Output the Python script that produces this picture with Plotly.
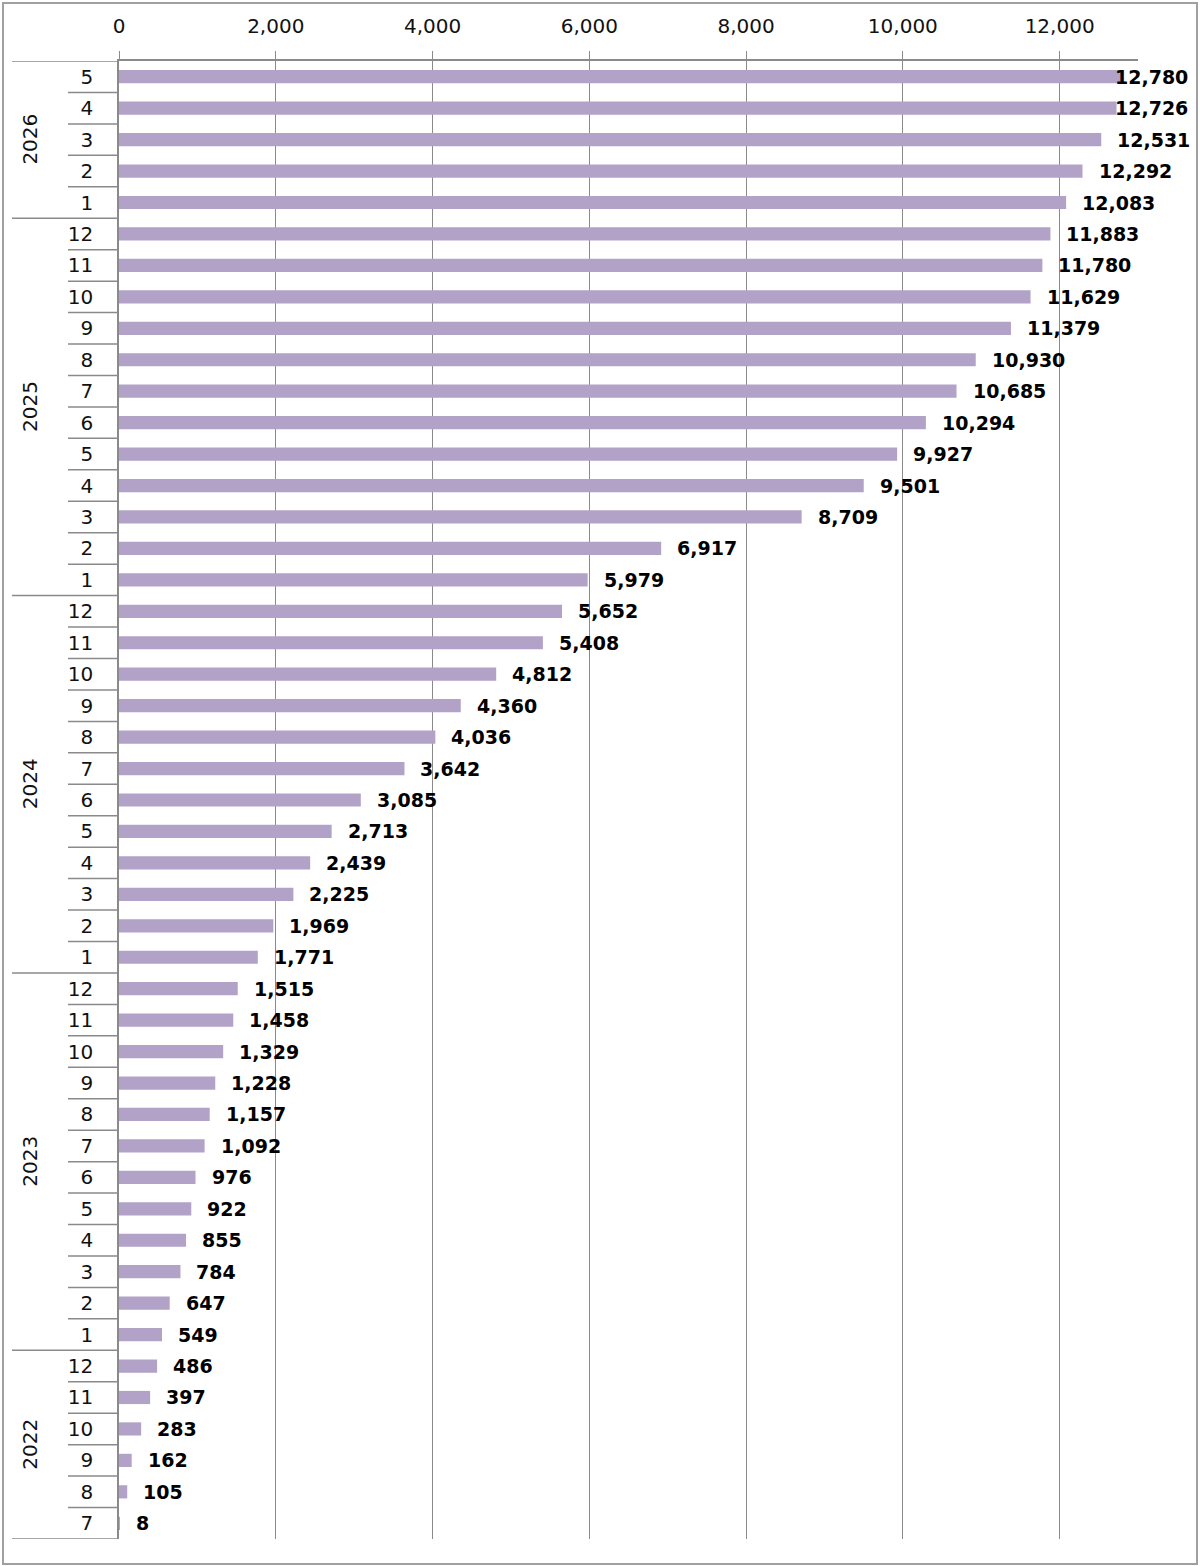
import plotly.graph_objects as go

# Data (chronological order)
years = [2022]*6 + [2023]*12 + [2024]*12 + [2025]*12 + [2026]*5
months = [7, 8, 9, 10, 11, 12] + list(range(1, 13))*3 + [1, 2, 3, 4, 5]
values = [8, 105, 162, 283, 397, 486,
          549, 647, 784, 855, 922, 976, 1092, 1157, 1228, 1329, 1458, 1515,
          1771, 1969, 2225, 2439, 2713, 3085, 3642, 4036, 4360, 4812, 5408, 5652,
          5979, 6917, 8709, 9501, 9927, 10294, 10685, 10930, 11379, 11629, 11780, 11883,
          12083, 12292, 12531, 12726, 12780]
x_ticks = [0, 2000, 4000, 6000, 8000, 10000, 12000]

W, H = 1200, 1566
ML, MR, MT, MB = 119, 62, 61, 27
PW = W - ML - MR
PH = H - MT - MB
XMAX = 13000
FONT = "DejaVu Sans, Verdana, sans-serif"
GRAY = "#8a8a8a"

idx = list(range(len(values)))

fig = go.Figure()
fig.add_trace(go.Bar(
    x=values, y=idx, orientation="h",
    marker=dict(color="#B3A2C7", line=dict(width=0)),
    width=0.42, hoverinfo="x",
))

def px_x(v):
    return ML + v / XMAX * PW

def to_paper_x(p):
    return (p - ML) / PW

def to_paper_y(p):
    return (H - MB - p) / PH

annotations = []
shapes = []
label_right_limit = 1190
for i, v in enumerate(values):
    txt = f"{v:,}"
    est_w = 12.4 * sum(c.isdigit() for c in txt) + 7 * txt.count(",")
    left = px_x(v) + 14
    if left + est_w > label_right_limit:
        annotations.append(dict(x=to_paper_x(label_right_limit), xref="paper", y=i, yref="y",
                                text=f"<b>{txt}</b>", showarrow=False, xanchor="right",
                                yanchor="middle", font=dict(size=19, color="#000", family=FONT)))
    else:
        annotations.append(dict(x=v, xref="x", y=i, yref="y", xshift=14,
                                text=f"<b>{txt}</b>", showarrow=False, xanchor="left",
                                yanchor="middle", font=dict(size=19, color="#000", family=FONT)))

# category dividers and year labels
year_x0 = to_paper_x(12)
month_x0 = to_paper_x(68)
n = len(values)
for b in range(n + 1):
    yb = b - 0.5
    if b == 0 or b == n or years[b] != years[b - 1]:
        x0 = year_x0
    else:
        x0 = month_x0
    shapes.append(dict(type="line", xref="paper", yref="y", x0=x0, x1=0, y0=yb, y1=yb,
                       line=dict(color=GRAY, width=1.5)))

uniq_years = []
for y in years:
    if y not in uniq_years:
        uniq_years.append(y)
for yr in uniq_years:
    ids = [i for i, y in enumerate(years) if y == yr]
    annotations.append(dict(x=to_paper_x(30), xref="paper", y=(ids[0] + ids[-1]) / 2, yref="y",
                            text=str(yr), textangle=-90, showarrow=False,
                            xanchor="center", yanchor="middle",
                            font=dict(size=20, color="#111", family=FONT)))

# outer border
shapes.append(dict(type="rect", xref="paper", yref="paper",
                   x0=to_paper_x(3), x1=to_paper_x(1197),
                   y0=to_paper_y(1564), y1=to_paper_y(3),
                   line=dict(color="#a0a0a0", width=2), fillcolor="rgba(0,0,0,0)", layer="below"))

fig.update_layout(
    width=W, height=H,
    margin=dict(l=ML, r=MR, t=MT, b=MB, autoexpand=False),
    paper_bgcolor="white", plot_bgcolor="white",
    showlegend=False,
    bargap=0.58,
    annotations=annotations,
    shapes=shapes,
    font=dict(family=FONT, size=20, color="#111"),
    xaxis=dict(side="top", range=[0, XMAX], tickvals=x_ticks, tickformat=",",
               showgrid=True, gridcolor=GRAY, gridwidth=1.2,
               ticks="outside", ticklen=8, tickcolor=GRAY, tickwidth=1.2,
               showline=True, linecolor=GRAY, linewidth=1.5,
               tickfont=dict(size=20, color="#111", family=FONT),
               ticklabelstandoff=10, zeroline=False, fixedrange=True),
    yaxis=dict(range=[-0.5, n - 0.5], tickvals=idx, ticktext=[str(m) for m in months],
               showgrid=False, zeroline=False, ticks="",
               showline=True, linecolor=GRAY, linewidth=1.5,
               tickfont=dict(size=20, color="#111", family=FONT),
               ticklabelstandoff=20, fixedrange=True),
)

fig.write_html("out.html")
